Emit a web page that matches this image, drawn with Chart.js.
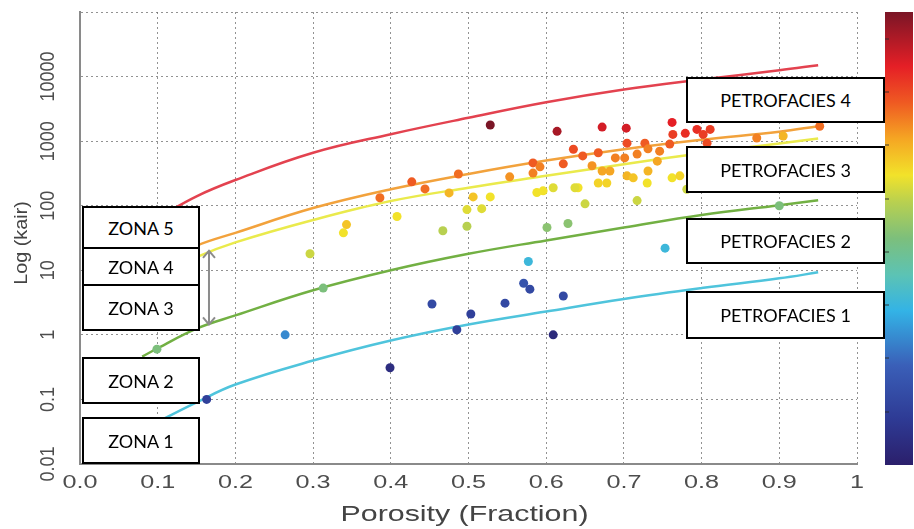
<!DOCTYPE html>
<html>
<head>
<meta charset="utf-8">
<script src="https://cdn.jsdelivr.net/npm/chart.js@4/dist/chart.umd.min.js"></script>
<style>
  body { margin: 0; background: #fff; }
  #wrap { position: relative; width: 914px; height: 529px; overflow: hidden; }
  #chart { position: absolute; left: 0; top: 0; }
  .box {
    position: absolute; box-sizing: border-box; background: #fff;
    border: 2px solid #000; display: flex; align-items: center; justify-content: center;
    font-family: Lato, "Open Sans", sans-serif; font-size: 18px; color: #000;
  }
  .zona { left: 82px; width: 118px; }
  .petro { left: 686px; width: 199px; }
</style>
</head>
<body>
<div id="wrap">
  <canvas id="chart" width="914" height="529"></canvas>
  <div class="box zona" style="top:206px;height:43px">ZONA 5</div>
  <div class="box zona" style="top:247px;height:39px">ZONA 4</div>
  <div class="box zona" style="top:284px;height:47px">ZONA 3</div>
  <div class="box zona" style="top:357px;height:47px">ZONA 2</div>
  <div class="box zona" style="top:417px;height:47px">ZONA 1</div>
  <div class="box petro" style="top:77px;height:46px">PETROFACIES 4</div>
  <div class="box petro" style="top:146px;height:47px">PETROFACIES 3</div>
  <div class="box petro" style="top:218px;height:46px">PETROFACIES 2</div>
  <div class="box petro" style="top:291px;height:48px">PETROFACIES 1</div>
</div>
<script>
// axis ticks
const xTickValues = [0, 0.1, 0.2, 0.3, 0.4, 0.5, 0.6, 0.7, 0.8, 0.9, 1];
const xTickLabels = ["0.0", "0.1", "0.2", "0.3", "0.4", "0.5", "0.6", "0.7", "0.8", "0.9", "1"];
const yGridValues = [0.01, 0.1, 1, 10, 100, 1000, 10000, 100000];
const yTickLabels = ["0.01", "0.1", "1", "10", "100", "1000", "10000"];

// petrofacies boundary curves (porosity, kair)
const curveX = [0.1, 0.15, 0.2, 0.3, 0.4, 0.5, 0.6, 0.7, 0.8, 0.9, 0.95];
const redY    = [65, 140, 250, 660, 1280, 2300, 4000, 6300, 9000, 12500, 15000];
const orangeY = [12, 24, 38, 92, 180, 310, 500, 750, 1050, 1400, 1700];
const yellowY = [8, 16, 27, 60, 118, 190, 290, 440, 650, 920, 1100];
const greenX  = [0.08, 0.1, 0.15, 0.2, 0.3, 0.4, 0.5, 0.6, 0.7, 0.8, 0.9, 0.95];
const greenY  = [0.46, 0.62, 1.25, 2.0, 4.9, 10, 18, 29, 46, 72, 102, 122];
const cyanY   = [0.045, 0.09, 0.17, 0.4, 0.82, 1.45, 2.3, 3.6, 5.3, 7.5, 9.3];

// samples: porosity, kair, colour value (0 = bottom of colour bar, 1 = top)
const porosity = [0.163, 0.264, 0.399, 0.453, 0.485, 0.503, 0.547, 0.571, 0.579, 0.577,
  0.609, 0.622, 0.753, 0.099, 0.313, 0.296, 0.339, 0.343, 0.408, 0.467,
  0.498, 0.601, 0.628, 0.498, 0.517, 0.650, 0.717, 0.528, 0.386, 0.427,
  0.444, 0.487, 0.475, 0.506, 0.528, 0.553, 0.583, 0.583, 0.588, 0.614,
  0.672, 0.703, 0.762, 0.763, 0.779, 0.794, 0.622, 0.635, 0.647, 0.667,
  0.659, 0.672, 0.682, 0.689, 0.701, 0.704, 0.717, 0.727, 0.731, 0.746,
  0.743, 0.731, 0.759, 0.704, 0.712, 0.678, 0.667, 0.641, 0.596, 0.730,
  0.762, 0.781, 0.802, 0.811, 0.807, 0.871, 0.905, 0.952, 0.609, 0.637,
  0.592, 0.772, 0.900];
const kair = [0.1, 1.0, 0.31, 3.0, 1.2, 2.1, 3.1, 6.3, 5.1, 13.7,
  1.0, 4.0, 22, 0.6, 5.3, 18, 38, 51, 68, 41,
  48, 46, 53, 87, 90, 107, 120, 1780, 133, 234,
  182, 310, 158, 137, 137, 280, 460, 320, 160, 1420,
  1650, 1590, 1950, 1270, 1320, 1520, 445, 750, 590, 660,
  415, 345, 345, 550, 550, 930, 630, 930, 760, 700,
  490, 345, 900, 290, 270, 225, 225, 190, 170, 225,
  270, 180, 1270, 1520, 930, 1120, 1200, 1700, 190, 190,
  400, 290, 100];
const colourVal = [0.12, 0.28, 0.05, 0.15, 0.12, 0.12, 0.15, 0.18, 0.15, 0.36,
  0.04, 0.15, 0.36, 0.5, 0.5, 0.6, 0.64, 0.68, 0.64, 0.58,
  0.58, 0.52, 0.52, 0.62, 0.62, 0.6, 0.6, 1.0, 0.78, 0.8,
  0.78, 0.78, 0.7, 0.68, 0.64, 0.74, 0.8, 0.76, 0.64, 0.95,
  0.9, 0.9, 0.88, 0.84, 0.86, 0.86, 0.8, 0.82, 0.8, 0.8,
  0.74, 0.72, 0.72, 0.76, 0.76, 0.82, 0.76, 0.8, 0.76, 0.76,
  0.72, 0.7, 0.8, 0.7, 0.68, 0.66, 0.66, 0.64, 0.64, 0.64,
  0.64, 0.6, 0.84, 0.84, 0.82, 0.76, 0.7, 0.78, 0.62, 0.62,
  0.76, 0.66, 0.5];

// arrow between zones (porosity, kair top, kair bottom)
const arrowX = 0.166;
const arrowTop = 20;
const arrowBottom = 1.45;

// colour map used for the bar and the dots
const cmapStops = [
  [0.00, [43, 31, 107]], [0.10, [46, 58, 148]], [0.22, [58, 95, 184]],
  [0.34, [51, 179, 230]], [0.42, [92, 195, 180]], [0.50, [124, 191, 124]],
  [0.58, [184, 208, 80]], [0.64, [242, 226, 42]], [0.72, [245, 166, 35]],
  [0.80, [239, 90, 34]], [0.88, [229, 31, 38]], [1.00, [122, 21, 38]]
];

function cmap(v) {
    for (let i = 1; i < cmapStops.length; i++) {
        const [v1, c1] = cmapStops[i];
        const [v0, c0] = cmapStops[i - 1];
        if (v <= v1) {
            const t = (v - v0) / (v1 - v0);
            const c = c0.map((a, k) => Math.round(a + (c1[k] - a) * t));
            return `rgb(${c[0]},${c[1]},${c[2]})`;
        }
    }
    const c = cmapStops[cmapStops.length - 1][1];
    return `rgb(${c[0]},${c[1]},${c[2]})`;
}

const toXY = (xs, ys) => xs.map((x, i) => ({ x: x, y: ys[i] }));

function lineSet(xs, ys, color) {
    return {
        type: "line",
        data: toXY(xs, ys),
        borderColor: color,
        borderWidth: 2.5,
        pointRadius: 0,
        fill: false,
        tension: 0.4,
        order: 2
    };
}

const decor = {
    id: "decor",
    afterDatasetsDraw(chart) {
        const { ctx, scales: { x, y } } = chart;
        // double arrow
        const ax = x.getPixelForValue(arrowX);
        const ay1 = y.getPixelForValue(arrowTop);
        const ay2 = y.getPixelForValue(arrowBottom);
        ctx.save();
        ctx.strokeStyle = "#8c8c8c";
        ctx.lineWidth = 2;
        ctx.beginPath();
        ctx.moveTo(ax, ay1); ctx.lineTo(ax, ay2);
        ctx.moveTo(ax - 6, ay1 + 7); ctx.lineTo(ax, ay1); ctx.lineTo(ax + 6, ay1 + 7);
        ctx.moveTo(ax - 6, ay2 - 7); ctx.lineTo(ax, ay2); ctx.lineTo(ax + 6, ay2 - 7);
        ctx.stroke();
        ctx.restore();
    },
    afterDraw(chart) {
        const { ctx, chartArea, scales: { x, y } } = chart;
        ctx.save();
        // x tick labels
        ctx.fillStyle = "#4d4d4d";
        ctx.font = '18px "Liberation Sans", Arial, sans-serif';
        ctx.textAlign = "center";
        ctx.textBaseline = "middle";
        xTickValues.forEach((v, i) => {
            ctx.save();
            ctx.translate(x.getPixelForValue(v), chartArea.bottom + 19);
            ctx.scale(1.4, 1);
            ctx.fillText(xTickLabels[i], 0, 0);
            ctx.restore();
        });
        // y tick labels, rotated
        yTickLabels.forEach((t, i) => {
            ctx.save();
            ctx.translate(chartArea.left - 32, y.getPixelForValue(yGridValues[i]));
            ctx.rotate(-Math.PI / 2);
            ctx.scale(1, 1.15);
            ctx.fillText(t, 0, 0);
            ctx.restore();
        });
        // axis titles
        ctx.fillStyle = "#444";
        ctx.font = '22px "Liberation Sans", Arial, sans-serif';
        ctx.save();
        ctx.translate((chartArea.left + chartArea.right) / 2 - 4, chartArea.bottom + 51);
        ctx.scale(1.38, 1);
        ctx.fillText("Porosity (Fraction)", 0, 0);
        ctx.restore();
        ctx.font = '18px "Liberation Sans", Arial, sans-serif';
        ctx.save();
        ctx.translate(22, 243);
        ctx.rotate(-Math.PI / 2);
        ctx.scale(1.1, 1);
        ctx.fillText("Log (kair)", 0, 0);
        ctx.restore();
        // colour bar
        const top = chartArea.top, bottom = chartArea.bottom + 1;
        const grad = ctx.createLinearGradient(0, bottom, 0, top);
        cmapStops.forEach(([v]) => grad.addColorStop(v, cmap(v)));
        ctx.fillStyle = grad;
        ctx.fillRect(885, top, 28, bottom - top);
        ctx.strokeStyle = "rgba(40,40,40,0.6)";
        ctx.lineWidth = 1.5;
        const step = (bottom - top) / 8.5;
        for (let k = 1; k <= 8; k++) {
            const ty = Math.round(bottom - k * step);
            ctx.beginPath(); ctx.moveTo(885, ty); ctx.lineTo(889, ty); ctx.stroke();
        }
        ctx.restore();
    }
};

new Chart(document.getElementById("chart"), {
    type: "scatter",
    data: {
        datasets: [
            {
                type: "scatter",
                data: toXY(porosity, kair),
                pointRadius: 4.5,
                pointHoverRadius: 4.5,
                pointBorderWidth: 0,
                pointBackgroundColor: colourVal.map(cmap),
                order: 1
            },
            lineSet(curveX, redY, "#e3424f"),
            lineSet(curveX, orangeY, "#f2a23c"),
            lineSet(curveX, yellowY, "#eaea4c"),
            lineSet(greenX, greenY, "#72b043"),
            lineSet(curveX, cyanY, "#4fc4dc")
        ]
    },
    options: {
        responsive: false,
        animation: false,
        devicePixelRatio: 1,
        layout: { padding: { top: 12, right: 57, left: 0, bottom: 0 } },
        plugins: { legend: { display: false }, tooltip: { enabled: false } },
        scales: {
            x: {
                type: "linear",
                min: 0,
                max: 1,
                ticks: { display: false, stepSize: 0.1 },
                grid: { color: "rgba(110,110,110,0.75)", drawTicks: false },
                border: { display: true, color: "#8a8a8a", width: 2, dash: [2, 3] },
                afterFit: s => { s.height = 65; }
            },
            y: {
                type: "logarithmic",
                min: 0.01,
                max: 100000,
                ticks: { display: false },
                afterBuildTicks: s => { s.ticks = yGridValues.map(v => ({ value: v })); },
                grid: { color: "rgba(110,110,110,0.75)", drawTicks: false },
                border: { display: true, color: "#8a8a8a", width: 2, dash: [2, 3] },
                afterFit: s => { s.width = 80; }
            }
        }
    },
    plugins: [decor]
});
</script>
</body>
</html>
